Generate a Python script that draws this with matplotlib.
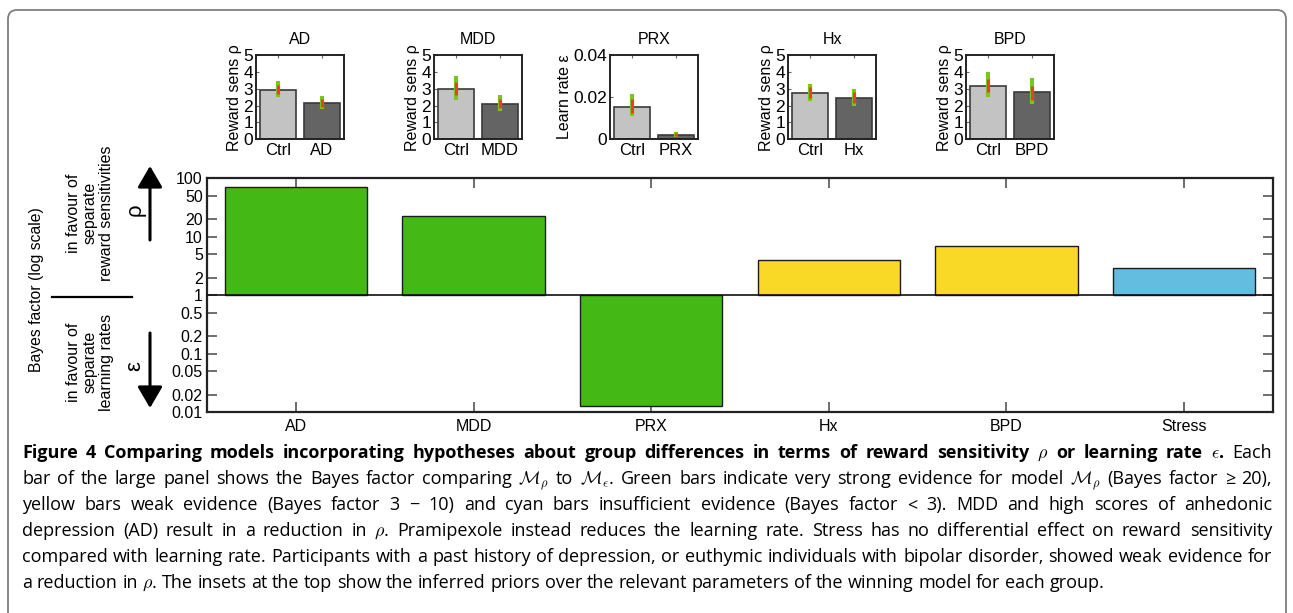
import matplotlib
matplotlib.use('Agg')
import matplotlib.pyplot as plt
import numpy as np
from matplotlib.patches import FancyBboxPatch, FancyArrowPatch
from matplotlib.lines import Line2D
from matplotlib.transforms import IdentityTransform
from matplotlib.ticker import NullLocator

# ---------------- data ----------------
categories = ['AD', 'MDD', 'PRX', 'Hx', 'BPD', 'Stress']
bayes_factor = [72, 23, 0.0129, 4.0, 6.9, 2.9]
evidence = ['strong', 'strong', 'strong', 'weak', 'weak', 'none']
evidence_colors = {'strong': '#44b915', 'weak': '#f9d826', 'none': '#62bde1'}
ytick_values = [0.01, 0.02, 0.05, 0.1, 0.2, 0.5, 1, 2, 5, 10, 20, 50, 100]
ytick_labels = ['0.01', '0.02', '0.05', '0.1', '0.2', '0.5', '1', '2', '5', '10', '20', '50', '100']

inset_groups = ['AD', 'MDD', 'PRX', 'Hx', 'BPD']
inset_ylabels = ['Reward sens ρ', 'Reward sens ρ', 'Learn rate ε', 'Reward sens ρ', 'Reward sens ρ']
inset_ylims = [5, 5, 0.04, 5, 5]
inset_yticks = [[0, 1, 2, 3, 4, 5], [0, 1, 2, 3, 4, 5], [0, 0.02, 0.04], [0, 1, 2, 3, 4, 5], [0, 1, 2, 3, 4, 5]]
inset_yticklabels = [['0', '1', '2', '3', '4', '5'], ['0', '1', '2', '3', '4', '5'], ['0', '0.02', '0.04'],
                     ['0', '1', '2', '3', '4', '5'], ['0', '1', '2', '3', '4', '5']]
ctrl_mean = [2.93, 3.00, 0.0155, 2.74, 3.18]
grp_mean = [2.17, 2.11, 0.0020, 2.46, 2.79]
ctrl_green_lo = [2.49, 2.33, 0.0110, 2.26, 2.53]
ctrl_green_hi = [3.48, 3.75, 0.0215, 3.26, 4.01]
ctrl_red_lo = [2.67, 2.63, 0.0126, 2.44, 2.82]
ctrl_red_hi = [3.22, 3.42, 0.0193, 3.10, 3.58]
grp_green_lo = [1.80, 1.68, 0.0010, 1.96, 2.09]
grp_green_hi = [2.59, 2.63, 0.0035, 2.96, 3.62]
grp_red_lo = [1.93, 1.86, 0.0015, 2.14, 2.33]
grp_red_hi = [2.39, 2.41, 0.0029, 2.80, 3.18]

caption_lines = [
    "bar of the large panel shows the Bayes factor comparing $\\mathcal{M}_\\rho$ to $\\mathcal{M}_\\epsilon$. Green bars indicate very strong evidence for model $\\mathcal{M}_\\rho$ (Bayes factor ≥ 20),",
    "yellow bars weak evidence (Bayes factor 3 − 10) and cyan bars insufficient evidence (Bayes factor < 3). MDD and high scores of anhedonic",
    "depression (AD) result in a reduction in $\\rho$. Pramipexole instead reduces the learning rate. Stress has no differential effect on reward sensitivity",
    "compared with learning rate. Participants with a past history of depression, or euthymic individuals with bipolar disorder, showed weak evidence for",
    "a reduction in $\\rho$. The insets at the top show the inferred priors over the relevant parameters of the winning model for each group.",
]
caption_bold = "Figure 4 Comparing models incorporating hypotheses about group differences in terms of reward sensitivity $\\rho$ or learning rate $\\epsilon$."
caption_first_rest = "Each"

# ---------------- figure ----------------
W, H = 1293, 613
plt.rcParams['font.family'] = ['Liberation Sans', 'DejaVu Sans']
plt.rcParams['mathtext.fontset'] = 'cm'
fig = plt.figure(figsize=(W / 100, H / 100), dpi=100)


def fx(x):
    return x / W


def fy(y):
    return 1 - y / H


def axes_px(l, t, r, b):
    return fig.add_axes([l / W, 1 - b / H, (r - l) / W, (b - t) / H])


# border
border = FancyBboxPatch((8, -30), 1278, 633, boxstyle='round,pad=0,rounding_size=9',
                        transform=IdentityTransform(), facecolor='none', edgecolor='#7f7f7f', lw=1.3)
fig.add_artist(border)

# ---------------- main axes ----------------
ax = axes_px(207, 178.3, 1273, 412.3)
xpos = np.arange(1, len(categories) + 1)
heights = np.array(bayes_factor) - 1
ax.bar(xpos, heights, bottom=1, width=0.8, color=[evidence_colors[e] for e in evidence],
       edgecolor='#1c1c1c', linewidth=1.0, zorder=2)
ax.set_yscale('log')
ax.set_ylim(0.01, 100)
ax.set_xlim(0.5, 6.5)
ax.axhline(1, color='#111111', lw=1.2, zorder=3)
ax.set_yticks(ytick_values)
ax.set_yticklabels(ytick_labels)
ax.yaxis.set_minor_locator(NullLocator())
ax.set_xticks(xpos)
ax.set_xticklabels(categories)
ax.tick_params(axis='both', direction='in', length=7, width=1.2, color='#555555',
               top=True, right=True, labelsize=11.5, pad=3)
ax.tick_params(axis='x', pad=5)
for s in ax.spines.values():
    s.set_linewidth(1.6)
    s.set_color('#222222')

# ---------------- insets ----------------
inset_lefts = [256, 434, 610, 788, 966]
for i, g in enumerate(inset_groups):
    a = axes_px(inset_lefts[i], 55, inset_lefts[i] + 88, 139.3)
    a.bar([1, 2], [ctrl_mean[i], grp_mean[i]], width=0.8, color=['#c3c3c3', '#646464'],
          edgecolor='#3a3a3a', linewidth=1.2, zorder=2)
    a.vlines([1, 2], [ctrl_green_lo[i], grp_green_lo[i]], [ctrl_green_hi[i], grp_green_hi[i]],
             color='#7cc51f', lw=3.0, zorder=3)
    a.vlines([1, 2], [ctrl_red_lo[i], grp_red_lo[i]], [ctrl_red_hi[i], grp_red_hi[i]],
             color='#e8431f', lw=2.2, zorder=4)
    a.set_xlim(0.5, 2.5)
    a.set_ylim(0, inset_ylims[i])
    a.set_yticks(inset_yticks[i])
    a.set_yticklabels(inset_yticklabels[i])
    a.set_xticks([1, 2])
    a.set_xticklabels(['Ctrl', g])
    a.tick_params(axis='both', direction='in', length=2.5, width=0.8, color='#666666',
                  top=True, right=False)
    a.tick_params(axis='y', labelsize=12.5, pad=2)
    a.tick_params(axis='x', labelsize=12, pad=3)
    a.set_title(g, fontsize=11.5, pad=8)
    a.set_ylabel(inset_ylabels[i], fontsize=11.5, labelpad=1)
    for s in a.spines.values():
        s.set_linewidth(1.4)
        s.set_color('#222222')

# ---------------- left annotations ----------------
fig.text(fx(37), fy(290), 'Bayes factor (log scale)', rotation=90, ha='center', va='center', fontsize=11.3)
fig.text(fx(90), fy(213), 'in favour of\nseparate\nreward sensitivities', rotation=90, ha='center',
         va='center', fontsize=11.5, linespacing=1.1, multialignment='center')
fig.text(fx(135), fy(210), 'ρ', rotation=90, ha='center', va='center', fontsize=16)
fig.text(fx(90), fy(362), 'in favour of\nseparate\nlearning rates', rotation=90, ha='center',
         va='center', fontsize=11.5, linespacing=1.1, multialignment='center')
fig.text(fx(135), fy(366), 'ε', rotation=90, ha='center', va='center', fontsize=16)
fig.add_artist(Line2D([fx(52), fx(132)], [fy(297), fy(297)], color='black', lw=1.6,
                      transform=fig.transFigure))
arrow_style = dict(arrowstyle='-|>,head_length=0.65,head_width=0.38', mutation_scale=20,
                   lw=2.2, color='black', shrinkA=0, shrinkB=0)
fig.add_artist(FancyArrowPatch((fx(150), fy(240)), (fx(150), fy(166)),
                               transform=fig.transFigure, **arrow_style))
fig.add_artist(FancyArrowPatch((fx(150), fy(333)), (fx(150), fy(408)),
                               transform=fig.transFigure, **arrow_style))

# ---------------- caption ----------------
renderer = fig.canvas.get_renderer()


def measure(s, **kw):
    t = fig.text(0, 0, s, **kw)
    w = t.get_window_extent(renderer=renderer).width
    t.remove()
    return w


def cap_kw(size, bold=False):
    d = dict(family=['Open Sans', 'DejaVu Sans'], fontsize=size)
    if bold:
        d['fontweight'] = 'bold'
    return d


def build_lines(size):
    lines = [[(w, cap_kw(size, True)) for w in caption_bold.split(' ')] + [(caption_first_rest, cap_kw(size))]]
    for line in caption_lines:
        lines.append([(w, cap_kw(size)) for w in line.split(' ')])
    return lines


def natural_width(words, size):
    sp = measure('a a', **cap_kw(size)) - measure('aa', **cap_kw(size))
    return sum(measure(w, **kw) for w, kw in words) + sp * (len(words) - 1)


x0, x1 = 22, 1272
s0 = 12.0
nat = [natural_width(l, s0) for l in build_lines(s0)[:-1]]
cap_size = min(s0 * (x1 - x0) / max(nat) * 0.99, 14.5)
lines = build_lines(cap_size)
space_w = measure('a a', **cap_kw(cap_size)) - measure('aa', **cap_kw(cap_size))


def place_line(y, words, justify=True):
    widths = [measure(w, **kw) for w, kw in words]
    gap = (x1 - x0 - sum(widths)) / (len(words) - 1) if justify else space_w
    x = x0
    for (w, kw), wd in zip(words, widths):
        fig.text(fx(x), fy(y), w, ha='left', va='baseline', **kw)
        x += wd + gap


base_y = 458
spacing = 26
for k, l in enumerate(lines):
    place_line(base_y + spacing * k, l, justify=(k < len(lines) - 1))

fig.savefig('out.png', dpi=100)
